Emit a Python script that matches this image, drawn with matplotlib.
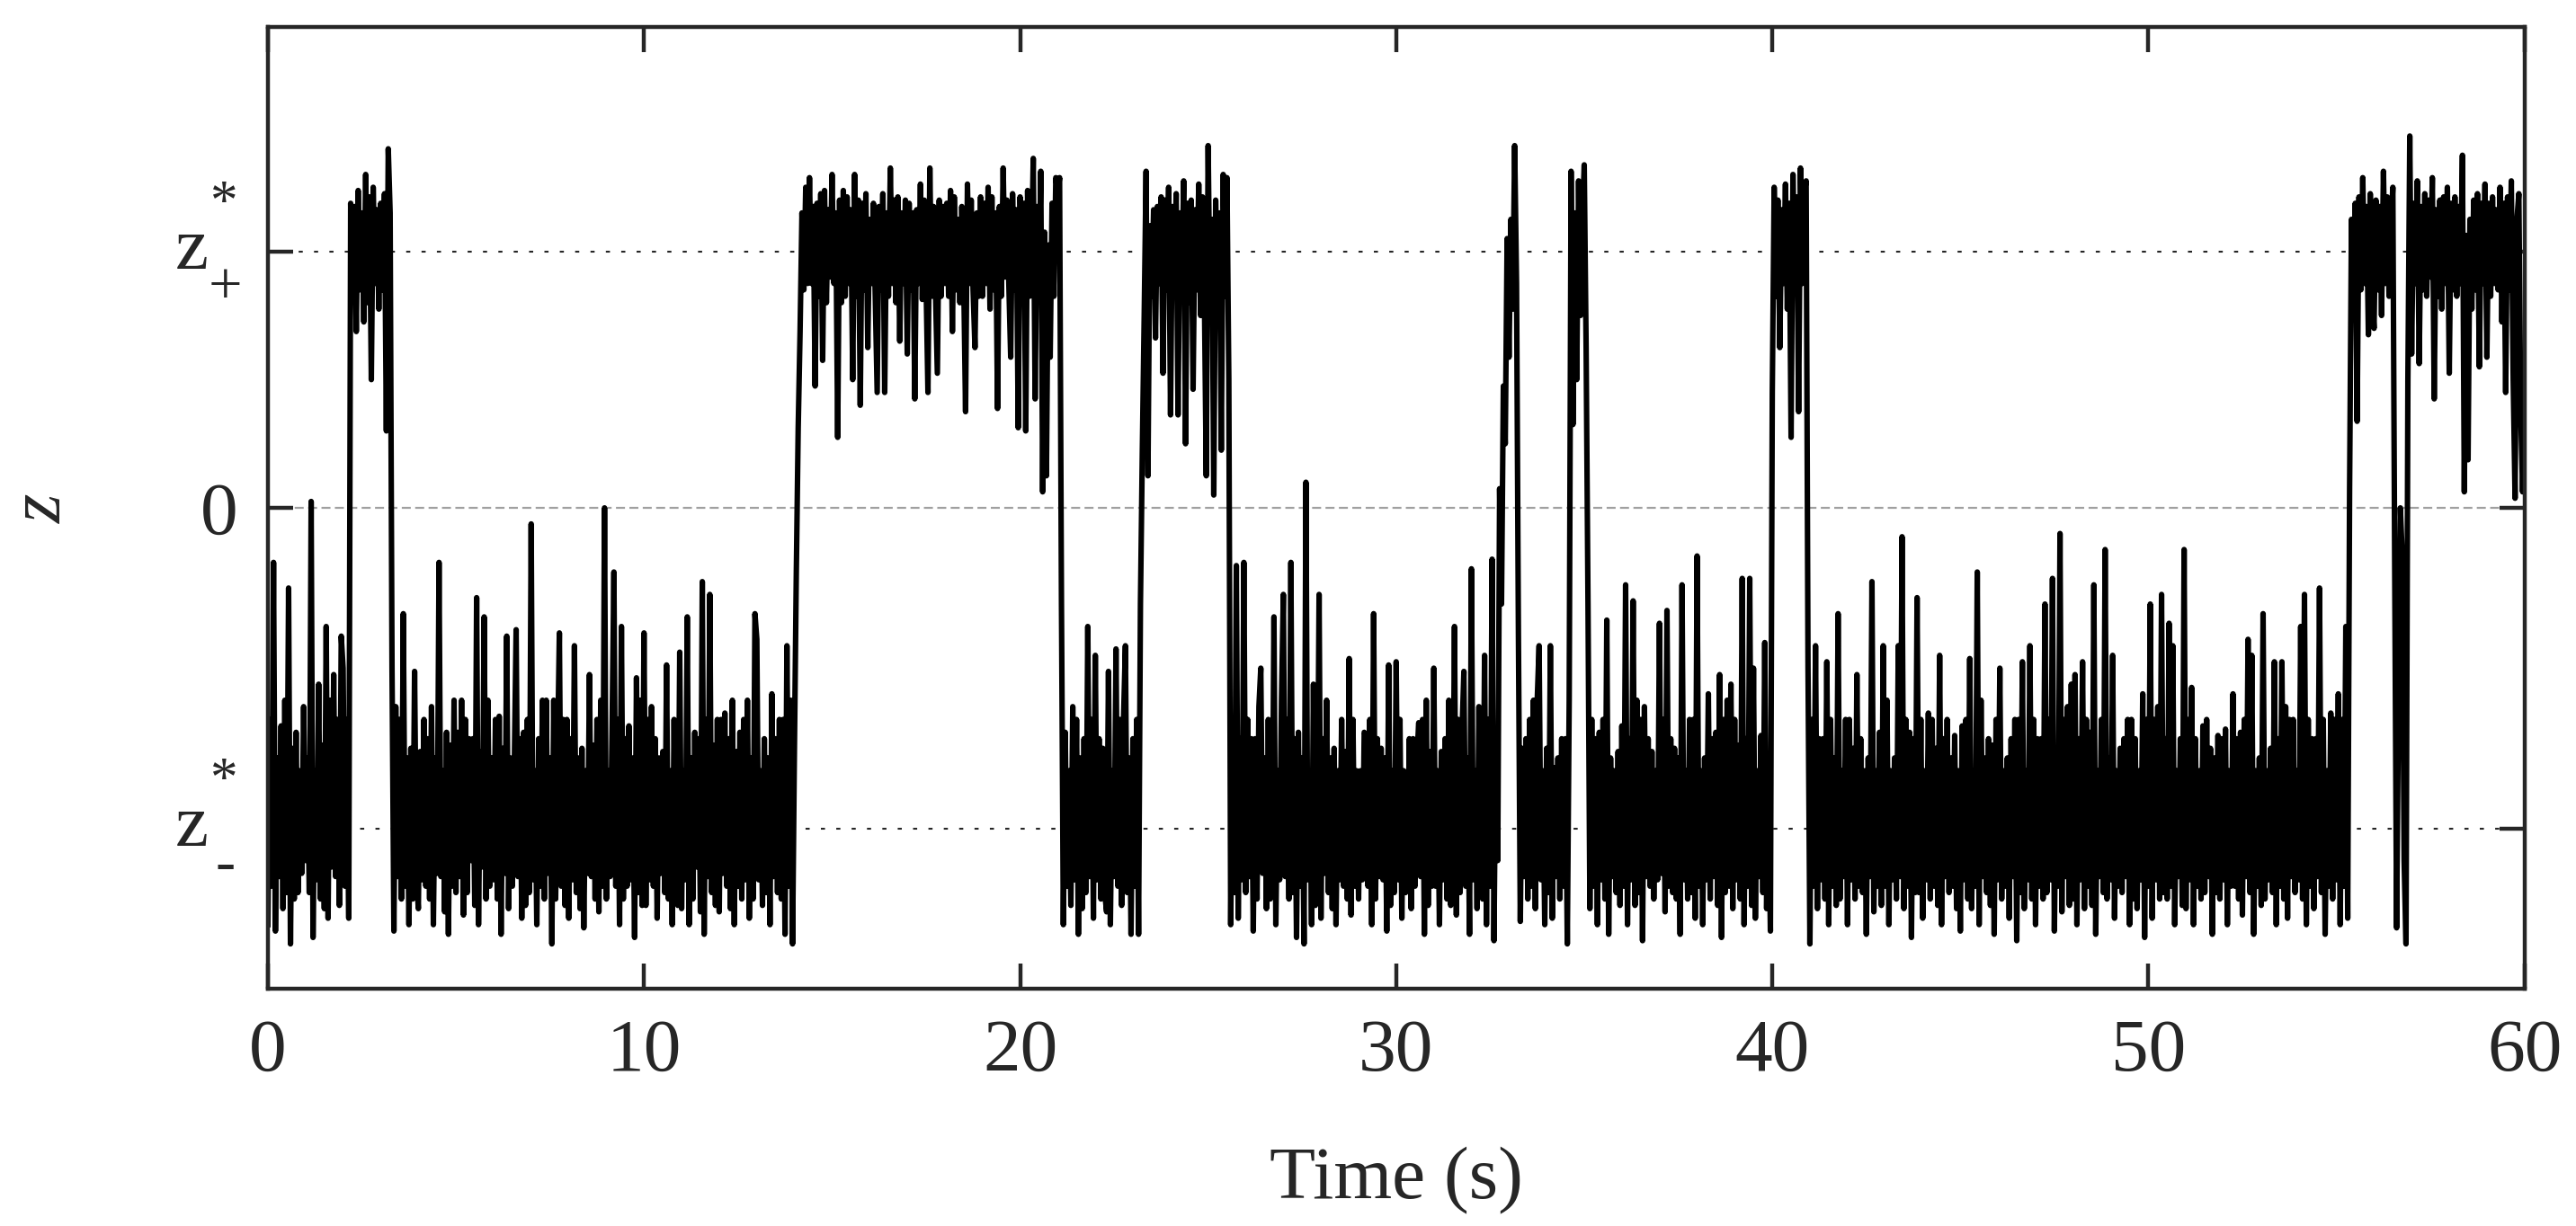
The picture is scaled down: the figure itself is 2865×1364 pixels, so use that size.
import matplotlib
matplotlib.use('Agg')
import matplotlib.pyplot as plt
import matplotlib.transforms as mtransforms
import numpy as np

plt.rcParams['font.family'] = ['Liberation Serif', 'DejaVu Serif']
plt.rcParams['mathtext.fontset'] = 'custom'
plt.rcParams['mathtext.rm'] = 'Liberation Serif'
plt.rcParams['mathtext.it'] = 'Liberation Serif:italic'

# levels of the two stable states
z_plus = 0.8
z_minus = -1.0

z_rows = [
    [-1.30, -0.66, -1.18, -0.17, -1.32, -0.78, -1.15, -0.68, -1.25, -0.60, -1.20, -0.25, -1.36, -0.75, -1.22, -0.70, -1.20, -0.82, -1.14, -0.62],
    [-1.10, -0.78, -1.20, 0.02, -1.34, -0.82, -1.16, -0.55, -1.22, -0.74, -1.25, -0.37, -1.28, -0.60, -1.12, -0.52, -1.15, -0.66, -1.24, -0.40],
    [-0.50, -1.18, -0.66, -1.28, 0.95, 0.66, 0.94, 0.55, 0.99, 0.68, 0.92, 0.58, 1.04, 0.64, 0.97, 0.40, 1.00, 0.70, 0.93, 0.62],
    [0.95, 0.68, 0.98, 0.24, 1.12, 0.92, -0.50, -1.32, -0.62, -1.15, -0.66, -1.22, -0.33, -1.18, -0.78, -1.30, -0.75, -1.22, -0.51, -1.15],
    [-1.25, -0.76, -1.16, -0.66, -1.18, -0.72, -1.22, -0.62, -1.30, -0.78, -1.14, -0.17, -1.15, -0.82, -1.26, -0.70, -1.33, -0.74, -1.18, -0.60],
    [-1.20, -0.70, -1.15, -0.60, -1.27, -0.66, -1.20, -0.72, -1.10, -0.72, -1.24, -0.28, -1.30, -0.76, -1.12, -0.34, -1.22, -0.60, -1.18, -0.78],
    [-1.16, -0.66, -1.22, -0.65, -1.33, -0.75, -1.14, -0.40, -1.25, -0.78, -1.18, -0.82, -0.38, -1.15, -0.72, -1.28, -0.70, -1.24, -0.66, -1.20],
    [-0.05, -1.16, -0.82, -1.30, -0.72, -1.18, -0.60, -1.22, -0.60, -1.14, -0.78, -1.36, -0.60, -1.22, -0.78, -0.39, -1.18, -0.66, -1.24, -0.66],
    [-1.28, -0.72, -1.16, -0.43, -1.20, -0.78, -1.25, -0.75, -1.31, -0.82, -1.14, -0.52, -1.15, -0.74, -1.22, -0.66, -1.26, -0.60, -1.18, 0.00],
    [-1.22, -0.82, -1.15, -0.70, -0.20, -1.18, -0.66, -1.30, -0.37, -1.22, -0.72, -1.18, -0.68, -1.16, -0.78, -1.34, -0.53, -1.20, -0.60, -1.24],
    [-0.39, -1.24, -0.66, -1.16, -0.62, -1.18, -0.72, -1.28, -0.78, -1.14, -0.76, -1.20, -0.49, -1.22, -0.82, -1.30, -0.66, -1.18, -1.24, -0.45],
    [-1.25, -0.82, -1.16, -0.34, -1.30, -0.78, -1.22, -0.70, -1.12, -0.72, -1.26, -0.23, -1.33, -0.66, -1.15, -0.27, -1.20, -0.74, -1.24, -0.66],
    [-1.26, -0.66, -1.14, -0.64, -1.18, -0.72, -1.25, -0.60, -1.30, -0.76, -1.18, -0.70, -1.22, -0.66, -1.16, -0.60, -1.28, -0.78, -1.22, -0.33],
    [-0.41, -1.16, -0.82, -1.24, -0.72, -1.20, -0.78, -1.30, -0.58, -1.15, -0.72, -1.20, -0.66, -1.22, -0.66, -1.33, -0.43, -1.18, -0.60, -1.36],
    [-0.75, -0.20, 0.25, 0.55, 0.92, 0.68, 1.00, 0.70, 1.03, 0.70, 0.94, 0.38, 0.95, 0.66, 0.98, 0.46, 0.99, 0.64, 0.93, 0.72],
    [1.04, 0.70, 0.92, 0.22, 0.96, 0.64, 0.99, 0.66, 0.97, 0.70, 0.93, 0.40, 1.04, 0.66, 0.96, 0.32, 0.95, 0.68, 0.98, 0.50],
    [0.90, 0.70, 0.95, 0.66, 0.36, 0.94, 0.68, 0.98, 0.36, 0.92, 0.66, 1.06, 0.70, 0.96, 0.64, 0.97, 0.52, 0.92, 0.70, 0.96],
    [0.48, 0.95, 0.68, 0.92, 0.34, 0.93, 0.70, 1.01, 0.65, 0.96, 0.70, 0.36, 1.06, 0.66, 0.94, 0.68, 0.42, 0.96, 0.66, 0.94],
    [0.70, 0.95, 0.66, 0.99, 0.55, 0.97, 0.68, 0.90, 0.64, 0.94, 0.72, 0.30, 1.01, 0.70, 0.96, 0.68, 0.50, 0.92, 0.66, 0.97],
    [0.66, 0.95, 0.70, 1.00, 0.62, 0.97, 0.68, 0.92, 0.31, 0.94, 0.66, 1.06, 0.72, 0.96, 0.70, 0.47, 0.98, 0.68, 0.93, 0.25],
    [0.97, 0.66, 0.95, 0.24, 0.99, 0.66, 0.75, 1.09, 0.34, 0.94, 0.68, 1.05, 0.05, 0.86, 0.10, 0.82, 0.47, 0.95, 0.66, 1.03],
    [0.98, 1.03, -0.30, -1.30, -0.70, -1.18, -0.82, -1.24, -0.62, -1.16, -0.66, -1.33, -0.78, -1.25, -0.72, -1.20, -0.37, -1.15, -0.66, -1.28],
    [-0.46, -1.16, -0.72, -1.22, -0.75, -1.20, -1.26, -0.51, -1.30, -0.82, -1.15, -0.44, -1.18, -0.66, -1.24, -0.66, -0.43, -1.20, -0.78, -1.33],
    [-0.72, -1.18, -0.66, -1.33, -0.30, 0.18, 0.60, 1.05, 0.10, 0.88, 0.66, 0.93, 0.53, 0.94, 0.70, 0.97, 0.42, 0.96, 0.68, 1.00],
    [0.29, 0.94, 0.66, 0.98, 0.29, 0.92, 0.70, 1.02, 0.20, 0.95, 0.64, 0.96, 0.37, 0.93, 0.68, 1.01, 0.60, 0.97, 0.66, 0.10],
    [1.13, 0.62, 0.90, 0.04, 0.96, 0.64, 0.92, 0.18, 1.04, 0.66, 1.03, 0.40, -1.30, -0.66, -1.20, -0.18, -1.28, -0.72, -1.16, -0.17],
    [-1.20, -0.66, -1.15, -0.72, -1.32, -0.72, -1.22, -0.62, -0.50, -1.14, -0.78, -1.25, -0.66, -1.22, -1.18, -0.34, -1.30, -0.82, -1.16, -0.60],
    [-0.27, -1.15, -0.66, -1.22, -0.17, -1.20, -0.72, -1.34, -0.70, -1.18, -0.78, -1.36, 0.08, -1.16, -0.82, -1.30, -0.55, -1.24, -1.12, -0.27],
    [-1.28, -0.72, -1.14, -0.60, -1.20, -0.78, -1.25, -0.75, -1.30, -0.82, -1.16, -0.66, -1.18, -0.76, -1.22, -0.47, -1.27, -0.66, -1.18, -0.82],
    [-1.22, -0.82, -1.16, -0.70, -0.71, -1.18, -0.66, -1.30, -0.33, -1.22, -0.72, -1.15, -0.75, -1.16, -0.78, -1.32, -0.49, -1.24, -0.82, -1.20],
    [-0.48, -1.16, -0.66, -1.28, -0.82, -1.20, -1.14, -0.72, -1.25, -0.72, -1.18, -0.78, -0.67, -1.15, -0.66, -1.33, -0.60, -1.24, -0.76, -1.18],
    [-0.50, -1.18, -0.82, -1.30, -0.76, -1.16, -0.72, -1.22, -0.60, -1.24, -1.15, -0.37, -1.27, -0.66, -1.20, -0.70, -0.51, -1.18, -0.78, -1.33],
    [-0.19, -1.16, -0.82, -1.25, -0.62, -1.20, -1.22, -0.46, -1.30, -0.66, -1.18, -0.16, -1.35, -0.70, -1.10, 0.06, -0.30, 0.38, 0.20, 0.84],
    [0.47, 0.90, 0.62, 1.13, 0.70, -0.40, -1.29, -0.75, -1.15, -0.72, -1.22, -0.66, -1.18, -0.60, -1.25, -0.60, -0.43, -1.16, -0.82, -1.30],
    [-0.75, -1.20, -0.43, -1.28, -0.81, -1.15, -0.78, -1.22, -0.72, -1.18, -0.72, -1.36, -0.60, 1.05, 0.26, 0.92, 0.40, 1.02, 0.60, 0.90],
    [1.07, 0.50, -0.30, -1.25, -0.66, -1.18, -0.72, -1.30, -0.70, -1.16, -0.66, -1.22, -0.35, -1.33, -0.78, -1.15, -0.82, -1.20, -0.76, -1.24],
    [-0.68, -1.18, -0.24, -1.30, -0.72, -1.16, -0.29, -1.24, -0.60, -1.20, -0.66, -1.35, -0.62, -1.15, -0.72, -1.18, -0.76, -1.22, -0.82, -1.16],
    [-0.36, -1.14, -0.66, -1.26, -0.32, -1.18, -0.72, -1.20, -0.75, -1.22, -0.78, -1.33, -0.24, -1.16, -0.82, -1.22, -0.66, -1.20, -0.66, -1.28],
    [-0.15, -1.18, -0.82, -1.30, -0.78, -1.16, -0.58, -1.22, -0.72, -1.15, -0.70, -1.24, -0.52, -1.34, -0.66, -1.20, -0.60, -1.18, -0.55, -1.25],
    [-0.66, -1.16, -0.74, -1.22, -0.22, -1.30, -0.72, -1.18, -0.22, -1.24, -0.50, -1.28, -0.82, -1.15, -0.71, -1.20, -0.42, -1.25, -0.90, -1.32],
    [0.36, 1.00, 0.66, 0.96, 0.50, 0.93, 0.70, 1.01, 0.62, 0.95, 0.22, 1.04, 0.68, 0.97, 0.30, 1.06, 0.70, 0.98, 1.02, -0.50],
    [-1.36, -0.66, -1.18, -0.43, -1.25, -0.72, -1.16, -0.72, -1.22, -0.48, -1.30, -0.66, -1.18, -0.78, -1.24, -0.33, -1.22, -0.82, -1.15, -0.66],
    [-1.30, -0.66, -1.16, -0.75, -1.22, -0.52, -1.18, -0.72, -1.20, -0.82, -1.33, -0.78, -1.15, -0.23, -1.26, -0.82, -1.18, -0.70, -1.24, -0.43],
    [-1.18, -0.60, -1.30, -0.82, -1.16, -0.78, -1.22, -0.43, -1.15, -0.09, -1.25, -0.66, -1.18, -0.70, -1.34, -0.72, -1.20, -0.28, -1.20, -0.66],
    [-1.28, -0.82, -1.16, -0.64, -1.22, -0.66, -1.18, -0.75, -1.24, -0.46, -1.30, -0.72, -1.15, -0.66, -1.20, -0.78, -1.18, -0.71, -1.25, -0.82],
    [-1.32, -0.68, -1.16, -0.66, -1.22, -0.47, -1.25, -0.82, -1.18, -0.20, -1.30, -0.60, -1.15, -0.78, -1.20, -0.72, -1.24, -0.74, -1.33, -0.66],
    [-1.16, -0.50, -1.22, -0.82, -1.18, -0.78, -1.28, -0.72, -1.15, -0.66, -1.35, -0.66, -1.20, -0.48, -1.25, -0.82, -1.16, -0.43, -1.22, -0.66],
    [-1.30, -0.72, -1.18, -0.72, -1.22, -0.30, -1.20, -0.66, -1.16, -0.22, -1.32, -0.82, -1.18, -0.08, -1.26, -0.66, -1.15, -0.62, -1.24, -0.55],
    [-1.22, -0.52, -1.30, -0.72, -1.16, -0.48, -1.25, -0.66, -1.18, -0.70, -1.24, -0.24, -1.33, -0.82, -1.15, -0.66, -1.20, -0.13, -1.22, -0.78],
    [-1.16, -0.46, -1.28, -0.82, -1.18, -0.75, -1.20, -0.72, -1.15, -0.66, -1.30, -0.66, -1.22, -0.72, -1.25, -0.82, -1.16, -0.58, -1.34, -0.66],
    [-1.18, -0.30, -1.28, -0.66, -1.16, -0.62, -1.22, -0.27, -1.20, -0.72, -1.22, -0.36, -1.18, -0.43, -1.30, -0.82, -1.15, -0.72, -1.24, -0.13],
    [-1.25, -0.66, -1.16, -0.56, -1.30, -0.72, -1.18, -0.82, -1.22, -0.68, -1.20, -0.66, -1.15, -0.75, -1.33, -0.78, -1.20, -0.71, -1.22, -0.72],
    [-1.16, -0.69, -1.30, -0.82, -1.18, -0.58, -1.18, -0.72, -1.22, -0.70, -1.27, -0.66, -1.15, -0.41, -1.20, -0.46, -1.33, -0.82, -1.18, -0.78],
    [-1.24, -0.33, -1.22, -0.82, -1.16, -0.75, -1.20, -0.48, -1.30, -0.72, -1.18, -0.48, -1.22, -0.62, -1.28, -0.66, -1.15, -0.66, -1.20, -0.82],
    [-1.16, -0.37, -1.22, -0.27, -1.30, -0.66, -1.18, -0.72, -1.25, -0.72, -1.15, -0.25, -1.20, -0.66, -1.33, -0.82, -1.18, -0.64, -1.22, -0.66],
    [-1.16, -0.58, -1.30, -0.66, -1.18, -0.37, -1.28, 0.06, 0.90, 0.66, 0.95, 0.27, 0.97, 0.68, 1.03, 0.70, 0.94, 0.54, 0.98, 0.66],
    [0.56, 0.96, 0.68, 0.94, 0.60, 1.05, 0.70, 0.97, 0.66, 0.88, 1.00, -0.20, -1.31, -0.60, 0.00, -0.15, -1.10, -1.36, 0.40, 1.16],
    [0.48, 0.95, 0.70, 1.02, 0.45, 0.94, 0.68, 0.98, 0.66, 0.96, 0.72, 1.03, 0.34, 0.93, 0.66, 0.96, 0.62, 0.97, 0.70, 1.00],
    [0.42, 0.95, 0.68, 0.97, 0.66, 0.94, 0.70, 1.10, 0.05, 0.85, 0.15, 0.90, 0.62, 0.96, 0.68, 0.98, 0.44, 0.95, 0.70, 1.01],
    [0.47, 0.95, 0.66, 0.97, 0.70, 0.93, 0.68, 1.00, 0.58, 0.95, 0.36, 0.97, 0.68, 1.02, 0.40, 0.03, 0.90, 0.98, 0.30, 0.05],
]
z_last = 0.30  # value at t = 60 s

z = np.array(sum(z_rows, []) + [z_last])
t = np.linspace(0, 60, len(z))

x_ticks = [0, 10, 20, 30, 40, 50, 60]
y_ticks = [z_minus, 0, z_plus]
y_ticklabels = ['', '0', '']
# the z*_+ / z*_- labels are drawn by hand (star and sign far apart)
star_labels = [(z_plus, '+'), (z_minus, '-')]

dark = '#262626'

fig = plt.figure(figsize=(14.325, 6.82), dpi=200)
ax = fig.add_axes([0.104, 0.1935, 0.876, 0.7845])

ax.axhline(z_plus, color=dark, lw=0.75, ls=(0, (2.2, 6)), zorder=1)
ax.axhline(z_minus, color=dark, lw=0.75, ls=(0, (2.2, 6)), zorder=1)
ax.axhline(0, color='#a0a0a0', lw=0.8, ls=(0, (4.5, 2.2)), zorder=1)

ax.plot(t, z, color='black', lw=2.2, zorder=2)

ax.set_xlim(0, 60)
ax.set_ylim(-1.5, 1.5)
ax.set_xticks(x_ticks)
ax.set_yticks(y_ticks)
ax.set_yticklabels(y_ticklabels)

ax.tick_params(direction='in', top=True, right=True, length=10, width=1.6,
               labelsize=30, colors=dark, pad=12)
for s in ax.spines.values():
    s.set_linewidth(1.6)
    s.set_color(dark)

trans = ax.get_yaxis_transform()
for level, sign in star_labels:
    off = mtransforms.ScaledTranslation(-24 / 72, -7 / 72, fig.dpi_scale_trans)
    ax.text(0, level, 'z', transform=trans + off, ha='right', va='baseline',
            fontsize=30, color=dark)
    off = mtransforms.ScaledTranslation(-18 / 72, 19 / 72, fig.dpi_scale_trans)
    ax.text(0, level, '*', transform=trans + off, ha='center', va='center',
            fontsize=22, color=dark)
    off = mtransforms.ScaledTranslation(-17 / 72, -15 / 72, fig.dpi_scale_trans)
    ax.text(0, level, sign, transform=trans + off, ha='center', va='center',
            fontsize=24, color=dark)

ax.set_xlabel('Time (s)', fontsize=30, color=dark, labelpad=24)
ax.set_ylabel('$z$', fontsize=30, color=dark)
ax.yaxis.set_label_coords(-0.085, 0.5)

fig.savefig('out.png', dpi=200)
